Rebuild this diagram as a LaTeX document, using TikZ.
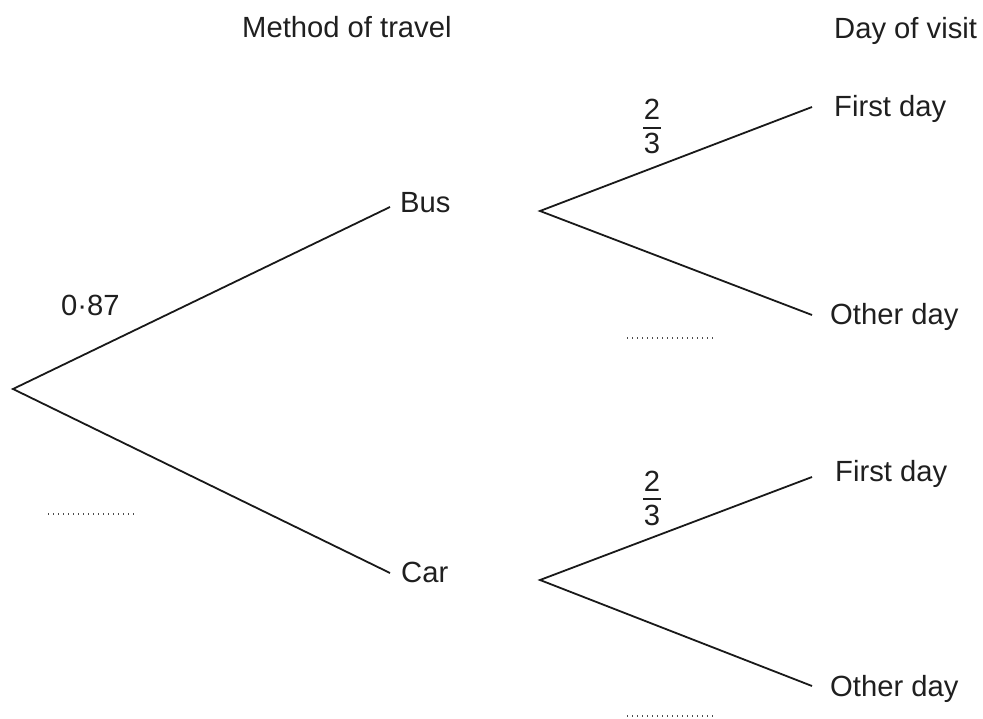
\documentclass[tikz,border=0pt]{standalone}
\usepackage{fontspec}
\setmainfont{Liberation Sans}
\begin{document}
\begin{tikzpicture}[x=1pt,y=-1pt,
  txt/.style={anchor=base west,inner sep=0pt,font=\fontsize{29.2}{34}\selectfont,text=black!88},
  num/.style={anchor=base,inner sep=0pt,font=\fontsize{29.2}{34}\selectfont,text=black!88},
  branch/.style={line width=1.8pt,black!90},
  fracbar/.style={line width=1.3pt,black!88},
  answer/.style={line width=1.4pt,black!70,dash pattern=on 1.4pt off 3.6pt}]
\useasboundingbox (0,0) rectangle (983,719);
% titles
\node[txt] (t1) at (242,38) {Method of travel};
\node[txt] (t2) at (834,39) {Day of visit};
% branch points
\coordinate (root) at (13,389);
\coordinate (busend) at (390,207);
\coordinate (carend) at (390,573);
\coordinate (busstart) at (540,211);
\coordinate (carstart) at (540,580);
\coordinate (bfirst) at (812,107);
\coordinate (bother) at (812,315);
\coordinate (cfirst) at (812,477);
\coordinate (cother) at (812,686);
% labels
\node[txt] (bus) at (400,213) {Bus};
\node[txt] (car) at (401,582) {Car};
\node[txt] (bf) at (834,117) {First day};
\node[txt] (bo) at (830,325) {Other day};
\node[txt] (cf) at (835,481) {First day};
\node[txt] (co) at (830,696) {Other day};
\node[txt] (p1) at (61,316) {0·87};
% fractions
\node[num] (f1n) at (652,120) {2};
\node[num] (f1d) at (652,154) {3};
\draw[fracbar] (643,128) -- (661,128);
\node[num] (f2n) at (652,491) {2};
\node[num] (f2d) at (652,525) {3};
\draw[fracbar] (643,499) -- (661,499);
% branches
\draw[branch] (busend) -- (root) -- (carend);
\draw[branch] (bfirst) -- (busstart) -- (bother);
\draw[branch] (cfirst) -- (carstart) -- (cother);
% answer spaces
\coordinate (d1a) at (48,514); \coordinate (d1b) at (135,514);
\coordinate (d2a) at (627,338); \coordinate (d2b) at (713,338);
\coordinate (d3a) at (627,716); \coordinate (d3b) at (713,716);
\draw[answer] (d1a) -- (d1b);
\draw[answer] (d2a) -- (d2b);
\draw[answer] (d3a) -- (d3b);
\end{tikzpicture}
\end{document}
